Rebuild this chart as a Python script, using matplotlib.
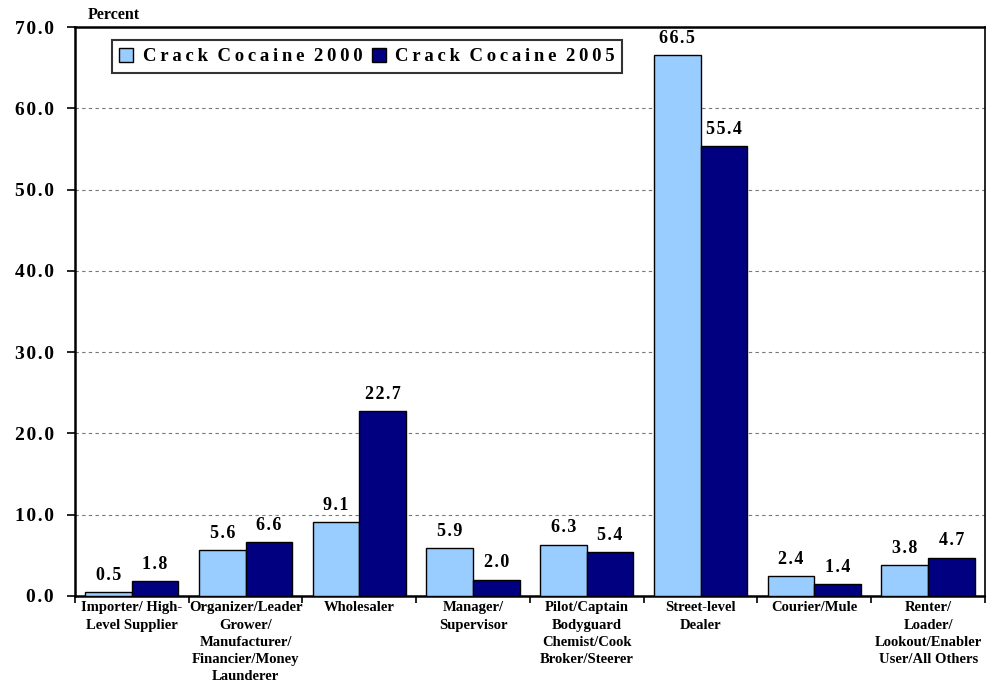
import numpy as np
import matplotlib.pyplot as plt

# data
categories = [
    "Importer/ High-\nLevel Supplier",
    "Organizer/Leader\nGrower/\nManufacturer/\nFinancier/Money\nLaunderer",
    "Wholesaler",
    "Manager/\nSupervisor",
    "Pilot/Captain\nBodyguard\nChemist/Cook\nBroker/Steerer",
    "Street-level\nDealer",
    "Courier/Mule",
    "Renter/\nLoader/\nLookout/Enabler\nUser/All Others",
]
crack_2000 = [0.5, 5.6, 9.1, 5.9, 6.3, 66.5, 2.4, 3.8]
crack_2005 = [1.8, 6.6, 22.7, 2.0, 5.4, 55.4, 1.4, 4.7]
series_names = ["Crack Cocaine 2000", "Crack Cocaine 2005"]
yticks = [0, 10, 20, 30, 40, 50, 60, 70]

THIN = "\u2009"
HAIR = "\u200a"


def spaced(s, gap=THIN):
    # the original uses expanded letter spacing
    return ("  ").join(gap.join(w) for w in s.split(" "))


plt.rcParams['font.family'] = ['Liberation Serif', 'DejaVu Serif']
plt.rcParams['font.weight'] = 'bold'

fig = plt.figure(figsize=(9.86, 6.84), dpi=100)
ax = fig.add_axes([0.076, 0.129, 0.923, 0.8315])

x = np.arange(len(categories))
w = 0.41
b1 = ax.bar(x - w / 2, crack_2000, w, color='#99CCFF', edgecolor='black',
            linewidth=1.0, label=spaced(series_names[0]), zorder=3)
b2 = ax.bar(x + w / 2, crack_2005, w, color='#000080', edgecolor='black',
            linewidth=1.0, label=spaced(series_names[1]), zorder=3)

for bars, vals in [(b1, crack_2000), (b2, crack_2005)]:
    for bar, v in zip(bars, vals):
        ax.text(bar.get_x() + bar.get_width() / 2, v + 1.0, HAIR.join(f"{v:.1f}"),
                ha='center', va='bottom', fontsize=13, fontweight='bold')

ax.set_xlim(-0.5, len(categories) - 0.5)
ax.set_ylim(0, 70)
ax.set_yticks(yticks)
ax.set_yticklabels([HAIR.join(f"{t:.1f}") for t in yticks], fontsize=14, fontweight='bold')
ax.set_xticks(x)
ax.set_xticklabels(categories, fontsize=10.5, fontweight='bold', linespacing=1.42)
ax.tick_params(axis='x', length=0, pad=4)
ax.set_xticks(np.arange(len(categories) + 1) - 0.5, minor=True)
ax.tick_params(axis='x', which='minor', length=5, width=1.2, direction='out')
ax.tick_params(axis='y', length=6, width=1.2, direction='out', pad=9)

ax.grid(axis='y', linestyle=(0, (3, 3)), color='#777777', linewidth=0.8, zorder=0)
for s in ax.spines.values():
    s.set_color('black')
    s.set_linewidth(1.2)
ax.spines['left'].set_linewidth(1.8)
ax.spines['bottom'].set_linewidth(1.8)
ax.spines['top'].set_linewidth(1.8)

leg = ax.legend(loc='upper left', bbox_to_anchor=(0.03, 0.993), ncol=2,
                frameon=True, fancybox=False, prop={'weight': 'bold', 'size': 13.5},
                handlelength=0.75, handleheight=0.75, handletextpad=0.5,
                columnspacing=0.5, borderpad=0.4, edgecolor='black')
leg.get_frame().set_linewidth(1.5)
leg.set_zorder(5)

fig.text(0.089, 0.966, "Percent", fontsize=11.5, fontweight='bold', ha='left', va='bottom')

fig.savefig("out.png", dpi=100)
